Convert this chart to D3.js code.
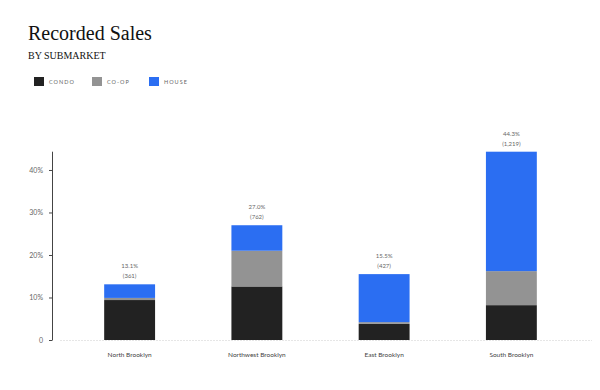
<!DOCTYPE html>
<html>
<head>
<meta charset="utf-8">
<script src="https://cdn.jsdelivr.net/npm/d3@7"></script>
<style>
  body { margin: 0; background: #fff; }
  svg { display: block; }
</style>
</head>
<body>
<div id="chart"></div>
<script>
var width = 600, height = 390;

// submarkets and share of recorded sales (%) by type
var submarkets = ["North Brooklyn", "Northwest Brooklyn", "East Brooklyn", "South Brooklyn"];
var condo = [9.4, 12.6, 3.8, 8.2];
var coop = [0.5, 8.4, 0.4, 8.0];
var house = [3.2, 6.0, 11.3, 28.1];
var totals = [13.1, 27.0, 15.5, 44.3];
var counts = ["(361)", "(762)", "(427)", "(1,219)"];

var types = ["condo", "coop", "house"];
var typeLabels = ["CONDO", "CO-OP", "HOUSE"];
var colors = ["#222222", "#939393", "#2b6ef2"];
var yTicks = [0, 10, 20, 30, 40];

var rows = submarkets.map(function(s, i){
    return { name: s, condo: condo[i], coop: coop[i], house: house[i], total: totals[i], count: counts[i] };
});

var svg = d3.select("#chart").append("svg").attr("width", width).attr("height", height);

svg.append("text")
    .attr("x", 28).attr("y", 40)
    .attr("font-family", "Liberation Serif, serif")
    .attr("font-size", 20)
    .attr("fill", "#111")
    .text("Recorded Sales");

svg.append("text")
    .attr("x", 28).attr("y", 59)
    .attr("font-family", "Liberation Serif, serif")
    .attr("font-size", 10)
    .attr("fill", "#111")
    .text("BY SUBMARKET");

// legend
var legendX = [34, 92, 149];
var legend = svg.selectAll("g.legend").data(typeLabels).enter().append("g")
    .attr("class", "legend")
    .attr("transform", function(d, i){ return "translate(" + legendX[i] + ",77)"; });
legend.append("rect")
    .attr("width", 10).attr("height", 9)
    .attr("fill", function(d, i){ return colors[i]; });
legend.append("text")
    .attr("x", 15).attr("y", 7)
    .attr("font-family", "Lato, sans-serif")
    .attr("font-size", 5.5)
    .attr("letter-spacing", 1)
    .attr("fill", "#666")
    .text(function(d){ return d; });

var x = d3.scaleBand().domain(submarkets).range([66, 575]).paddingInner(0.6).paddingOuter(0.3);
var y = d3.scaleLinear().domain([0, d3.max(totals)]).range([340, 151.7]);

// faint baseline
svg.append("line")
    .attr("x1", 60).attr("x2", 592)
    .attr("y1", y(0) + 0.5).attr("y2", y(0) + 0.5)
    .attr("stroke", "#e6e6e6")
    .attr("stroke-dasharray", "2,1");

var stack = d3.stack().keys(types)(rows);

svg.append("g").selectAll("g").data(stack).enter().append("g")
    .attr("fill", function(d, i){ return colors[i]; })
    .selectAll("rect").data(function(d){ return d; }).enter().append("rect")
    .attr("x", function(d){ return x(d.data.name); })
    .attr("width", x.bandwidth())
    .attr("y", function(d){ return y(d[1]); })
    .attr("height", function(d){ return y(d[0]) - y(d[1]); });

// value labels
var labels = svg.append("g").selectAll("g").data(rows).enter().append("g")
    .attr("transform", function(d){ return "translate(" + (x(d.name) + x.bandwidth() / 2) + "," + y(d.total) + ")"; })
    .attr("font-family", "Lato, sans-serif")
    .attr("font-size", 6)
    .attr("fill", "#666")
    .attr("text-anchor", "middle");
labels.append("text").attr("y", -16).text(function(d){ return d.total.toFixed(1) + "%"; });
labels.append("text").attr("y", -6).text(function(d){ return d.count; });

// category labels
svg.append("g").selectAll("text").data(submarkets).enter().append("text")
    .attr("x", function(d){ return x(d) + x.bandwidth() / 2; })
    .attr("y", 357)
    .attr("text-anchor", "middle")
    .attr("font-family", "Lato, sans-serif")
    .attr("font-size", 6.5)
    .attr("fill", "#444")
    .text(function(d){ return d; });

// y axis
var yAxis = d3.axisLeft(y)
    .tickValues(yTicks)
    .tickSize(3)
    .tickPadding(6)
    .tickFormat(function(d){ return d === 0 ? "0" : d + "%"; });

var gy = svg.append("g").attr("transform", "translate(52,0)").call(yAxis);
gy.select(".domain").attr("stroke", "#444").attr("d", "M0.5," + y.range()[1] + "V" + (y(0) + 0.5));
gy.selectAll(".tick line").attr("stroke", "#444");
gy.selectAll(".tick text")
    .attr("font-family", "Lato, sans-serif")
    .attr("font-size", 7)
    .attr("fill", "#666");
</script>
</body>
</html>
